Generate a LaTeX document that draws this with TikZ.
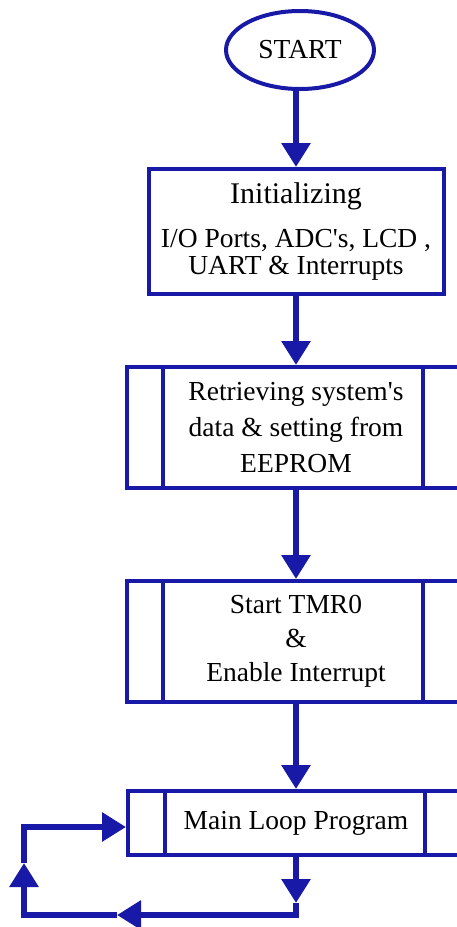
\documentclass[tikz,border=0pt]{standalone}
\usepackage{fontspec}
\setmainfont{Liberation Serif}[Ligatures=TeXOff]
\usetikzlibrary{shapes.geometric,arrows.meta}
\definecolor{fc}{RGB}{25,25,168}
\tikzset{
  border/.style={draw=fc, line width=4pt},
  procbox/.style={border, rectangle, inner sep=0pt, align=center, text=black},
  conn/.style={draw=fc, line width=6.5pt, line join=miter, -{Triangle[width=28pt,length=24pt]}},
  plain/.style={draw=fc, line width=6.5pt, line join=miter},
}
\begin{document}
\begin{tikzpicture}[x=1pt,y=-1pt]
\useasboundingbox (0,0) rectangle (457,927);
\clip (0,0) rectangle (457,927);
\fill[white] (0,0) rectangle (457,927);

\node[border, ellipse, minimum width=148pt, minimum height=78pt, inner sep=0pt,
      font=\fontsize{27.5}{30}\selectfont] (start) at (300,50) {START};

\node[procbox, minimum width=295pt, minimum height=125pt,
      font=\fontsize{27.5}{27}\selectfont] (init) at (296,231.5)
  {{\fontsize{30}{27}\selectfont Initializing}\\[17pt]
   I/O Ports, ADC\char"0027s, LCD ,\\
   UART \& Interrupts};

\node[procbox, minimum width=338pt, minimum height=121pt,
      font=\fontsize{27.5}{36}\selectfont] (retr) at (296,427.5)
  {Retrieving system\char"0027s\\ data \& setting from\\ EEPROM};

\node[procbox, minimum width=338pt, minimum height=121pt,
      font=\fontsize{27.5}{34}\selectfont] (tmr) at (296,641.5)
  {Start TMR0\\ \&\\ Enable Interrupt};

\node[procbox, minimum width=336pt, minimum height=64pt,
      font=\fontsize{27.5}{30}\selectfont] (main) at (296,823)
  {Main Loop Program};

% inner vertical lines of predefined-process boxes
\foreach \n/\l/\r in {retr/38/44, tmr/38/44, main/39/41}{
  \draw[border] ([xshift=\l pt]\n.north west) -- ([xshift=\l pt]\n.south west);
  \draw[border] ([xshift=-\r pt]\n.north east) -- ([xshift=-\r pt]\n.south east);
}

% main connectors
\draw[conn] (start.south -| init.north) -- (init.north);
\draw[conn] (init.south) -- (retr.north);
\draw[conn] (retr.south) -- (tmr.north);
\draw[conn] (tmr.south) -- (main.north);

% loop
\coordinate (c1) at (296,903);
\coordinate (c2) at (296,915);
\coordinate (c3) at (117,915);
\coordinate (c4) at (24,915);
\coordinate (c5) at (24,863);
\coordinate (c6) at (24,827);
\draw[conn] (main.south) -- (c1);
\draw[conn] (c1) -- (c2) -- (c3);
\draw[conn] (c3) -- (c4) -- (c5);
\draw[conn] (c5) -- (c6) -- (c6 -| main.west);
\end{tikzpicture}
\end{document}
